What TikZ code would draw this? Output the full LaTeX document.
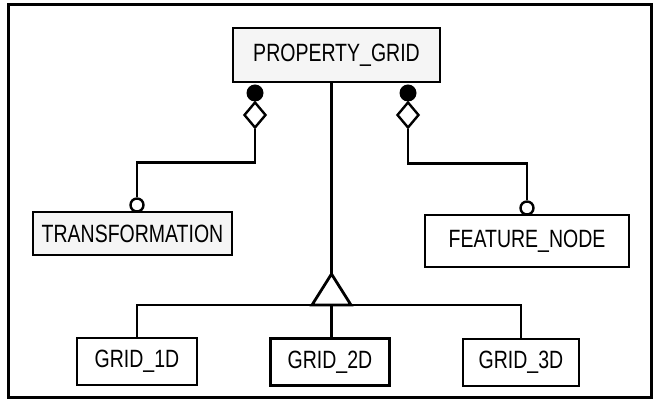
\documentclass[tikz,border=0pt]{standalone}
\usepackage{fontspec}
\setmainfont{Liberation Sans}[FakeStretch=0.78]
\usetikzlibrary{shapes.geometric}
\begin{document}
\begin{tikzpicture}[x=1pt,y=-1pt,
  lw/.style={line width=2.8pt},
  entity/.style={draw,lw,rectangle,inner sep=0pt,font=\fontsize{25}{28}\selectfont},
  shaded/.style={fill=black!4},
  dot/.style={circle,fill=black,inner sep=0pt,minimum size=17pt},
  hollow/.style={circle,draw,fill=white,inner sep=0pt,minimum size=13pt,line width=2.4pt},
  agg/.style={diamond,draw,fill=white,line width=2.4pt,inner sep=0pt,minimum width=22pt,minimum height=26pt},
  conn/.style={lw}
]
\useasboundingbox (0,0) rectangle (659,403);
\draw[line width=3pt] (8,5) rectangle (651,398);

\node[entity,shaded,minimum width=207pt,minimum height=54pt] (pg) at (336.5,55) {PROPERTY\_GRID};
\node[entity,shaded,minimum width=199pt,minimum height=43pt] (tr) at (132.5,233.5) {TRANSFORMATION};
\node[entity,fill=white,minimum width=204pt,minimum height=52pt] (fn) at (527,241) {FEATURE\_NODE};
\node[entity,minimum width=120pt,minimum height=47pt] (g1) at (137,361.5) {GRID\_1D};
\node[entity,minimum width=119pt,minimum height=47pt] (g2) at (330,362) {GRID\_2D};
\node[entity,minimum width=116pt,minimum height=47pt] (g3) at (521,362.5) {GRID\_3D};

\node[dot] (d1) at (255,93) {};
\node[dot] (d2) at (408,93) {};
\node[agg] (a1) at (255,115) {};
\node[agg] (a2) at (408,115) {};
\node[hollow] (o1) at (137,205) {};
\node[hollow] (o2) at (527,208) {};

\coordinate (apex) at (331.5,274);
\coordinate (bl) at (312,305);
\coordinate (br) at (351,305);
\coordinate (bar) at (0,305);

\draw[conn] (apex |- pg.south) -- (apex);
\draw[conn,line join=miter] (apex) -- (bl) -- (br) -- cycle;
\draw[conn] (a1.south) -- ++(0,33) -| (o1.north);
\draw[conn] (a2.south) -- ++(0,34) -| (o2.north);
\draw[conn] (g1.north) -- (g1.north |- bar) -- (g3.north |- bar) -- (g3.north);
\draw[conn] (apex |- bar) -- (apex |- g2.north);
\end{tikzpicture}
\end{document}
